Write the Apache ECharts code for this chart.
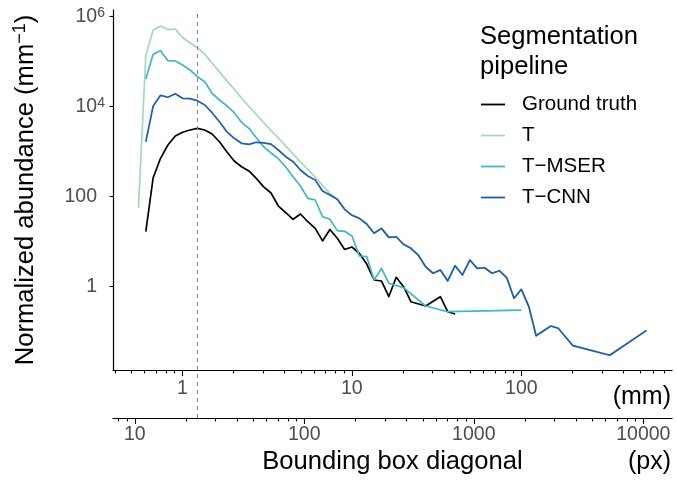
<!DOCTYPE html>
<html><head><meta charset="utf-8">
<script src="https://cdn.jsdelivr.net/npm/echarts@6/dist/echarts.min.js"></script>
<style>html,body{margin:0;padding:0;background:#fff}#c{width:677px;height:481px}</style>
</head><body><div id="c"></div>
<script>
// Bin centres (mm)
const sizeMm = [0.551,0.609,0.673,0.744,0.822,0.909,1.004,1.110,1.227,1.356,
 1.498,1.656,1.830,2.023,2.236,2.471,2.731,3.018,3.336,3.687,
 4.074,4.503,4.977,5.500,6.079,6.718,7.425,8.206,9.069,10.02,
 11.08,12.24,13.53,14.95,16.53,18.27,20.19,22.31,24.66,27.25,
 30.12,33.29,36.79,40.66,44.94,49.67,54.89,60.67,67.05,74.11,
 81.90,90.52,100.0,110.6,122.2,135.1,149.3,165.0,182.3,201.5,
 222.7,246.1,272.0,300.7,332.3,367.2,405.9,448.6,495.8,547.9];

const groundTruth = [null,16.7,264,713,1409,2233,2699,3035,3311,3035,
 2473,1667,1000,621,464,373,256,165,121,62.1,
 44.1,31.5,41.3,27.8,19.8,10.4,18.7,11.9,6.71,7.62,
 5.47,3.19,1.41,1.34,0.605,1.62,1.0,0.464,null,0.372,
 null,0.600,0.278,0.247];

const tOnly = [57.0,135900,506000,621000,514000,533000,341000,264000,205000,148000,
 92100,59300,38000,24370,15600,10100,6710,4450,2958,2015,
 1339,889,590,402,274,177,119,87.5,52.5,38.6,
 33.1,24.7,15.4,19.8,12.5,12.9,8.75,7.13,5.06,2.78,
 1.99,2.35,1.34,2.93,1.82,3.92,2.56,2.64,1.99,2.27,
 1.60,0.552,0.875,0.367,0.0815,null,0.134,0.119,null,0.0489,
 null,null,null,null,0.0299,null,null,null,null,0.107];

const tMser = [null,41300,146000,175500,105200,103700,84500,65400,46400,35900,
 19860,14090,10520,7360,4500,3311,2046,1291,935,699,
 457,278,173,92,84.5,35.9,31.5,17.6,17.0,13.4,
 4.81,4.64,1.41,2.56,1.19,null,0.95,null,null,0.372,
 null,null,0.278,null,null,null,null,null,null,null,
 null,null,0.303];

const tCnn = [null,1667,10370,17910,16180,19450,15380,15070,13600,10910,
 7360,4640,2783,1985,1537,1460,1618,1577,1468,1091,
 774,600,392,288,235,134,109,87.5,52.5,38.6,
 33.1,24.7,15.4,19.8,12.5,12.9,8.75,7.13,5.06,2.78,
 1.99,2.35,1.34,2.93,1.82,3.92,2.56,2.64,1.99,2.27,
 1.60,0.552,0.875,0.367,0.0815,null,0.134,0.119,null,0.0489,
 null,null,null,null,0.0299,null,null,null,null,0.107];

const seriesNames = ['Ground truth','T','T\u2212MSER','T\u2212CNN'];
const seriesColors = ['#000000','#a1dab4','#41b6c4','#225ea8'];

const yTicks = [1,100,10000,1000000];
const mmMajor = [1,10,100];
const mmMinor = [0.4,0.5,0.6,0.7,0.8,0.9,2,3,4,5,6,7,8,9,20,30,40,50,60,70,80,90,200,300,400,500,600,700];
const pxMajor = [10,100,1000,10000];
const pxMinor = [8,9,20,30,40,50,60,70,80,90,200,300,400,500,600,700,800,900,2000,3000,4000,5000,6000,7000,8000,9000];
const peakMm = 1.22;
const pxPerMm = 19.08;
const mmRange = [0.390, 774];
const yRange = [0.01409, 1409000];

function pairs(vals){
  const out = [];
  vals.forEach((v,i)=>{ if (v != null) out.push([sizeMm[i], v]); });
  return out;
}

const FONT = 'Liberation Sans, Arial, Helvetica, sans-serif';
const GREY = '#4d4d4d';

const chart = echarts.init(document.getElementById('c'), null, {renderer:'canvas'});

const dataSeries = [groundTruth, tOnly, tMser, tCnn].map((vals, k) => ({
  name: seriesNames[k], type: 'line', xAxisIndex: 0, yAxisIndex: 0,
  data: pairs(vals), symbol: 'none', showSymbol: false, connectNulls: true,
  lineStyle: {color: seriesColors[k], width: 1.7, join: 'round'},
  itemStyle: {color: seriesColors[k]},
  animation: false, silent: true, z: 3
}));

const dashStyle = {type: [4,4], color: '#808080', width: 1};

const option = {
  animation: false,
  textStyle: {fontFamily: FONT},
  title: [
    {text: 'Segmentation\npipeline', left: 480, top: 22, padding: 0,
     textStyle: {fontFamily: FONT, fontSize: 25.6, fontWeight: 'normal', color: '#000', lineHeight: 30}},
    {text: '(mm)', right: 6, top: 384, padding: 0,
     textStyle: {fontFamily: FONT, fontSize: 25, fontWeight: 'normal', color: '#000', lineHeight: 26}},
    {text: '(px)', right: 6, top: 449, padding: 0,
     textStyle: {fontFamily: FONT, fontSize: 25, fontWeight: 'normal', color: '#000', lineHeight: 26}}
  ],
  legend: {
    data: seriesNames.map(n => ({name: n, icon: 'rect'})), orient: 'vertical', left: 481, top: 94,
    itemWidth: 24, itemHeight: 1.8, itemGap: 10, padding: 0,
    selectedMode: false,
    textStyle: {fontFamily: FONT, fontSize: 20.5, color: '#000', padding: [0,0,0,12], lineHeight: 20}
  },
  grid: [
    {left: 113, right: 5, top: 10, bottom: 111, containLabel: false},
    {left: 113, right: 5, top: 370, bottom: 63, containLabel: false}
  ],
  xAxis: [
    {gridIndex: 0, type: 'log', min: mmRange[0], max: mmRange[1], position: 'bottom',
     axisLine: {show: true, onZero: false, lineStyle: {color: '#000', width: 1.2}},
     axisTick: {show: true, customValues: mmMajor, length: 6, lineStyle: {color: '#000', width: 1.1}},
     axisLabel: {show: true, customValues: mmMajor, margin: 9, fontSize: 19.5, color: GREY, fontFamily: FONT, lineHeight: 20,
       formatter: v => String(v)},
     splitLine: {show: false}, minorTick: {show: false}},
    {gridIndex: 0, type: 'log', min: mmRange[0], max: mmRange[1], position: 'bottom',
     axisLine: {show: false},
     axisTick: {show: true, customValues: mmMinor, length: 3.5, lineStyle: {color: '#000', width: 1.1}},
     axisLabel: {show: false}, splitLine: {show: false}},
    {gridIndex: 1, type: 'log', min: mmRange[0]*pxPerMm, max: mmRange[1]*pxPerMm, position: 'bottom',
     axisLine: {show: true, onZero: false, lineStyle: {color: '#000', width: 1.2}},
     axisTick: {show: true, customValues: pxMajor, length: 6, lineStyle: {color: '#000', width: 1.1}},
     axisLabel: {show: true, customValues: pxMajor, margin: 7, fontSize: 19.5, color: GREY, fontFamily: FONT, lineHeight: 20,
       formatter: v => String(v)},
     splitLine: {show: false},
     name: 'Bounding box diagonal', nameLocation: 'middle', nameGap: 31,
     nameTextStyle: {fontFamily: FONT, fontSize: 25.6, color: '#000', lineHeight: 26}},
    {gridIndex: 1, type: 'log', min: mmRange[0]*pxPerMm, max: mmRange[1]*pxPerMm, position: 'bottom',
     axisLine: {show: false},
     axisTick: {show: true, customValues: pxMinor, length: 3.5, lineStyle: {color: '#000', width: 1.1}},
     axisLabel: {show: false}, splitLine: {show: false}}
  ],
  yAxis: [
    {gridIndex: 0, type: 'log', min: yRange[0], max: yRange[1], position: 'left',
     axisLine: {show: true, onZero: false, lineStyle: {color: '#000', width: 1.2}},
     axisTick: {show: true, customValues: yTicks, length: 3.5, lineStyle: {color: '#000', width: 1.1}},
     axisLabel: {show: true, customValues: yTicks, margin: 8, fontFamily: FONT,
       formatter: v => {
         const e = Math.round(Math.log10(v));
         if (e >= 3) return '{b|10}{s|' + e + '}';
         return '{p|' + v + '}';
       },
       rich: {
         b: {fontSize: 19.5, lineHeight: 22, color: GREY, fontFamily: FONT},
         s: {fontSize: 14, lineHeight: 10, verticalAlign: 'top', color: GREY, fontFamily: FONT},
         p: {fontSize: 19.5, lineHeight: 22, color: GREY, fontFamily: FONT, padding: [0,8,0,0]}
       }},
     splitLine: {show: false},
     name: '{a|Normalized abundance (mm}{s|\u22121}{a|)}', nameLocation: 'middle', nameGap: 72, nameRotate: 90,
     nameTextStyle: {rich: {
       a: {fontSize: 25.6, lineHeight: 30, color: '#000', fontFamily: FONT},
       s: {fontSize: 18, lineHeight: 16, verticalAlign: 'top', color: '#000', fontFamily: FONT}
     }}},
    {gridIndex: 1, type: 'value', min: 0, max: 1, show: false}
  ],
  series: dataSeries.concat([
    {type: 'line', name: 'peak-mm', xAxisIndex: 0, yAxisIndex: 0, data: [], silent: true,
     markLine: {silent: true, symbol: ['none','none'], label: {show: false}, lineStyle: dashStyle,
       animation: false, data: [{xAxis: peakMm}]}, z: 2},
    {type: 'line', name: 'peak-px', xAxisIndex: 2, yAxisIndex: 1, data: [], silent: true,
     markLine: {silent: true, symbol: ['none','none'], label: {show: false}, lineStyle: dashStyle,
       animation: false, data: [{xAxis: peakMm * pxPerMm}]}, z: 2}
  ])
};
chart.setOption(option);
</script>
</body></html>
